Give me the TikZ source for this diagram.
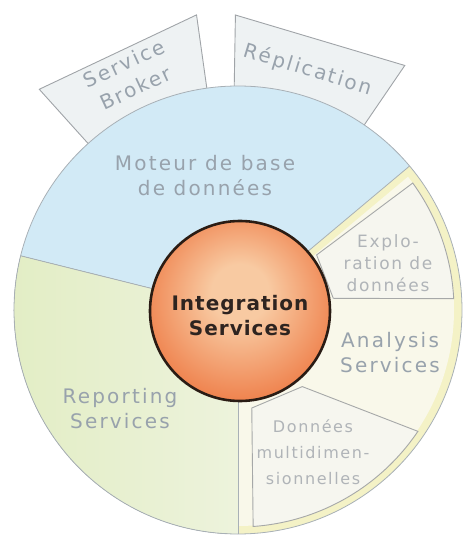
\documentclass[tikz,border=0pt]{standalone}
\usepackage{fontspec}
\setmainfont{DejaVu Sans}[LetterSpace=11]
\newfontfamily\subfont{DejaVu Sans}[LetterSpace=10]
\newfontfamily\hubfont{DejaVu Sans}[LetterSpace=5]
\definecolor{blueseg}{HTML}{D2EAF6}
\definecolor{greenleft}{HTML}{E2EDC4}
\definecolor{greenright}{HTML}{EDF3DC}
\definecolor{yellowband}{HTML}{F4F2C6}
\definecolor{yellowin}{HTML}{F9F8EA}
\definecolor{segline}{HTML}{A8B0B6}
\definecolor{tabfill}{HTML}{EEF2F3}
\definecolor{tabline}{HTML}{A0A4A8}
\definecolor{subfill}{HTML}{F6F6EF}
\definecolor{subline}{HTML}{A6A8A8}
\definecolor{lblgray}{HTML}{98A2AC}
\definecolor{subgray}{HTML}{B0B4B8}
\definecolor{hubline}{HTML}{2A1C14}
\definecolor{hubtext}{HTML}{2E2420}
\definecolor{hublight}{HTML}{F8CAA2}
\definecolor{hubmid}{HTML}{EE7A44}
\definecolor{hubdark}{HTML}{E05A24}
\pgfdeclareradialshading{hubshade}{\pgfpoint{0bp}{6bp}}{color(0bp)=(hublight); color(8bp)=(hublight); color(30bp)=(hubmid); color(50bp)=(hubdark)}
\begin{document}
\begin{tikzpicture}[x=1pt,y=1pt,
  seg/.style={draw=segline,line width=0.8pt},
  tab/.style={draw=tabline,fill=tabfill,line width=0.9pt},
  subbox/.style={draw=subline,fill=subfill,line width=0.9pt},
  lbl/.style={text=lblgray,align=center,font=\fontsize{20}{25}\selectfont},
  sublbl/.style={text=subgray,align=center}]
\useasboundingbox (-238,-227) rectangle (227,310);
\draw[tab] (132:220) -- (132:297) -- (98:298) -- (98:220) -- cycle;
\draw[tab] (91:220) -- (90.5:295) -- (55.7:296) -- (55.7:220) -- cycle;
\fill[blueseg] (0,0) -- (40:224) arc[start angle=40,end angle=166,radius=224] -- cycle;
\fill[left color=greenleft,right color=greenright] (0,0) -- (166:224) arc[start angle=166,end angle=270,radius=224] -- cycle;
\fill[yellowband] (0,0) -- (-90:224) arc[start angle=-90,end angle=40,radius=224] -- cycle;
\fill[yellowin] (-50:7) -- (38.1:216) arc[start angle=38.1,end angle=-90,radius=216] -- (0,-5.4) -- cycle;
\draw[seg] (0,0) -- (40:224); \draw[seg] (0,0) -- (166:224); \draw[seg] (0,0) -- (270:224);
\draw[seg] (0,0) circle[radius=224];
\draw[subbox] (35:96) -- (36:216) arc[start angle=36,end angle=3,radius=216] -- (7:96) -- cycle;
\draw[subbox] (-50:100) -- (-82:99) -- (-86:217) arc[start angle=-86,end angle=-34,radius=217] -- cycle;
\node[circle,shading=hubshade,draw=hubline,line width=2.6pt,minimum size=180pt,inner sep=0pt] (hub) at (2,-1) {};
\node[text=hubtext,align=center,font=\hubfont\bfseries\fontsize{20}{25}\selectfont] (hublbl) at (2,-6) {Integration\\Services};
\node[lbl] (moteur) at (-33,134) {Moteur de base\\de données};
\node[lbl] (analysis) at (152,-43) {Analysis\\Services};
\node[lbl] (reporting) at (-118,-99) {Reporting\\Services};
\node[sublbl,font=\subfont\fontsize{17}{22}\selectfont] (explo) at (150,47) {Explo-\\ration de\\données};
\node[sublbl,font=\subfont\fontsize{16}{26}\selectfont] (multi) at (75,-142) {Données\\multidimen-\\sionnelles};
\node[lbl,rotate=25,font=\fontsize{20}{27}\selectfont] (broker) at (114.8:258) {Service\\Broker};
\node[lbl,rotate=-17] (repl) at (73.7:250) {Réplication};
\end{tikzpicture}
\end{document}
